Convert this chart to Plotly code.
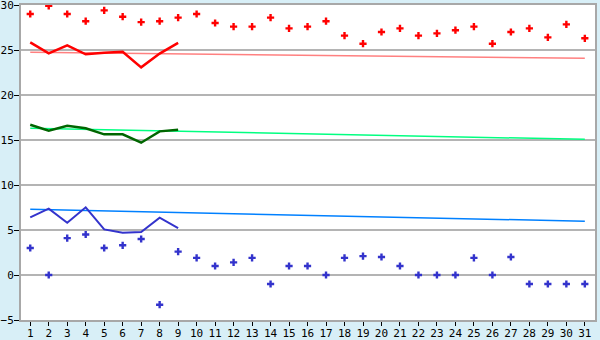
import plotly.graph_objects as go

days = list(range(1, 32))
max_temp = [29.0, 29.9, 29.0, 28.2, 29.4, 28.7, 28.1, 28.2, 28.6, 29.0,
            28.0, 27.6, 27.6, 28.6, 27.4, 27.6, 28.2, 26.6, 25.7, 27.0,
            27.4, 26.6, 26.85, 27.2, 27.6, 25.7, 27.0, 27.4, 26.4, 27.85, 26.3]
min_temp = [3.0, 0.0, 4.1, 4.5, 3.0, 3.3, 4.0, -3.3, 2.6, 1.9,
            1.0, 1.4, 1.9, -1.0, 1.0, 1.0, 0.0, 1.9, 2.1, 2.0,
            1.0, 0.0, 0.0, 0.0, 1.9, 0.0, 2.0, -1.0, -1.0, -1.0, -1.0]
line_days = list(range(1, 10))
red_line = [25.85, 24.63, 25.52, 24.52, 24.7, 24.8, 23.07, 24.6, 25.8]
green_line = [16.7, 16.03, 16.59, 16.3, 15.63, 15.63, 14.7, 15.96, 16.14]
blue_line = [6.41, 7.37, 5.81, 7.52, 5.07, 4.7, 4.78, 6.37, 5.22]
trend_days = [1, 31]
red_trend = [24.75, 24.07]
green_trend = [16.3, 15.07]
blue_trend = [7.3, 5.97]
y_ticks = [-5, 0, 5, 10, 15, 20, 25, 30]

fig = go.Figure()
fig.add_trace(go.Scatter(x=trend_days, y=red_trend, mode="lines",
                         line=dict(color="#ff8080", width=1.5)))
fig.add_trace(go.Scatter(x=trend_days, y=green_trend, mode="lines",
                         line=dict(color="#00ff80", width=1.5)))
fig.add_trace(go.Scatter(x=trend_days, y=blue_trend, mode="lines",
                         line=dict(color="#0080ff", width=1.5)))
fig.add_trace(go.Scatter(x=line_days, y=red_line, mode="lines",
                         line=dict(color="#ff0000", width=2.5)))
fig.add_trace(go.Scatter(x=line_days, y=green_line, mode="lines",
                         line=dict(color="#006600", width=2.5)))
fig.add_trace(go.Scatter(x=line_days, y=blue_line, mode="lines",
                         line=dict(color="#3333cc", width=2)))
fig.add_trace(go.Scatter(x=days, y=max_temp, mode="markers",
                         marker=dict(symbol="cross", size=6, color="#ff0000",
                                     line=dict(width=0))))
fig.add_trace(go.Scatter(x=days, y=min_temp, mode="markers",
                         marker=dict(symbol="cross", size=6, color="#3333cc",
                                     line=dict(width=0))))

fig.update_layout(
    width=600, height=340,
    margin=dict(l=21, r=5, t=5, b=20),
    paper_bgcolor="#d8eff7",
    plot_bgcolor="#ffffff",
    showlegend=False,
    font=dict(family="DejaVu Sans Mono", size=11, color="#000000"),
)
fig.update_xaxes(
    range=[0.5, 31.55], tickmode="array", tickvals=days,
    ticktext=[str(d) for d in days], automargin=False,
    showgrid=False, zeroline=False,
    ticks="outside", ticklen=4, tickcolor="#000000",
    ticklabelstandoff=-2, ticklabeloverflow="allow",
    showline=True, linecolor="#a8a8a8", linewidth=2, mirror=True,
)
fig.update_yaxes(
    range=[-5, 30], tickmode="array", tickvals=y_ticks, automargin=False,
    showgrid=True, gridcolor="#b4b4b4", gridwidth=1.5, zeroline=False,
    ticks="outside", ticklen=5, tickcolor="#000000",
    ticklabelstandoff=-2, ticklabeloverflow="allow",
    showline=True, linecolor="#a8a8a8", linewidth=2, mirror=True,
)

fig.write_html("out.html")
